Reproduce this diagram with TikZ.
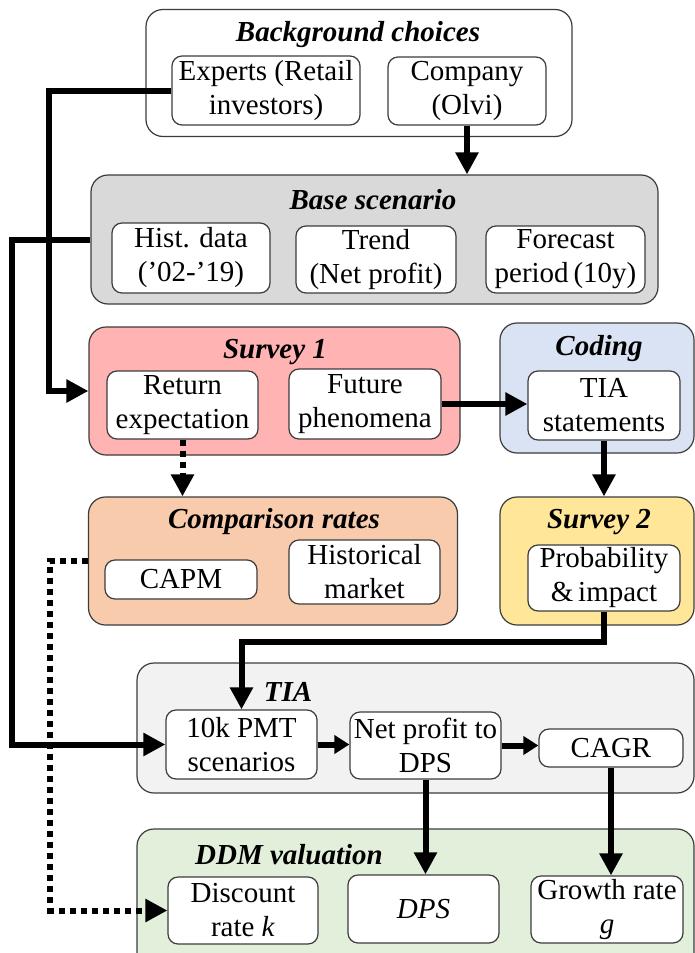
\documentclass[tikz,border=0pt]{standalone}
\usepackage{fontspec}
\setmainfont{Liberation Serif}
\usetikzlibrary{arrows.meta}

\definecolor{edge}{HTML}{3C3C3C}
\definecolor{basefill}{HTML}{D9D9D9}
\definecolor{surveyone}{HTML}{FFB3B3}
\definecolor{codingfill}{HTML}{DAE3F3}
\definecolor{compfill}{HTML}{F8CBAD}
\definecolor{surveytwo}{HTML}{FFE699}
\definecolor{tiafill}{HTML}{F2F2F2}
\definecolor{ddmfill}{HTML}{E2EFDA}

\begin{document}
\begin{tikzpicture}[x=1pt,y=-1pt,
  font=\fontsize{29}{34}\selectfont,
  groupbox/.style={draw=edge, line width=1.2pt, rounded corners=17pt, inner sep=0pt},
  cell/.style={draw=edge, line width=1.2pt, fill=white, rounded corners=10pt,
               inner sep=0pt, align=center},
  heading/.style={font=\fontsize{29}{34}\selectfont\bfseries\itshape, inner sep=0pt},
  flow/.style={line width=6pt, -{Triangle[length=22pt,width=22pt]}},
  shortflow/.style={line width=6pt, -{Triangle[length=15pt,width=18pt]}},
  dotflow/.style={line width=6pt, dash pattern=on 6pt off 5pt,
                  -{Triangle[length=22pt,width=22pt]}}]

\clip (0,0) rectangle (695,953);
\fill[white] (0,0) rectangle (695,953);

% ---------- group boxes ----------
\node[groupbox, fill=white, minimum width=426pt, minimum height=127pt] (bg) at (359,73) {};
\node[groupbox, fill=basefill, minimum width=567pt, minimum height=129pt] (base) at (374.5,239.5) {};
\node[groupbox, fill=surveyone, minimum width=371pt, minimum height=128pt] (s1) at (274.5,391) {};
\node[groupbox, fill=codingfill, minimum width=194pt, minimum height=130pt] (cod) at (597,388) {};
\node[groupbox, fill=compfill, minimum width=369pt, minimum height=128pt] (cmp) at (273,561) {};
\node[groupbox, fill=surveytwo, minimum width=194pt, minimum height=128pt] (s2) at (597,561) {};
\node[groupbox, fill=tiafill, minimum width=557pt, minimum height=130pt] (tia) at (415.5,728) {};
\node[groupbox, fill=ddmfill, minimum width=557pt, minimum height=150pt] (ddm) at (415.5,904) {};

% ---------- headings ----------
\node[heading] (tbg) at (358,35) {Background choices};
\node[heading] (tbase) at (373,200) {Base scenario};
\node[heading] (ts1) at (275,352) {Survey 1};
\node[heading] (tcod) at (599,349) {Coding};
\node[heading] (tcmp) at (274,522) {Comparison rates};
\node[heading] (ts2) at (599,522) {Survey 2};
\node[heading] (ttia) at (288,692) {TIA};
\node[heading] (tddm) at (289,855) {DDM valuation};

% ---------- inner cells ----------
\node[cell, minimum width=188pt, minimum height=69pt] (exp) at (266,90.5) {Experts (Retail\\investors)};
\node[cell, minimum width=158pt, minimum height=68pt] (co) at (467,91) {Company\\(Olvi)};

\node[cell, minimum width=158pt, minimum height=70pt] (hist) at (191,258) {Hist. data\\(’02-’19)};
\node[cell, minimum width=160pt, minimum height=67pt] (trend) at (376,259.5) {Trend\\(Net profit)};
\node[cell, minimum width=159pt, minimum height=67pt] (fc) at (565.5,259.5) {Forecast\\period\,(10y)};

\node[cell, minimum width=151pt, minimum height=68pt] (ret) at (182.5,405) {Return\\expectation};
\node[cell, minimum width=152pt, minimum height=70pt] (fut) at (365,404) {Future\\phenomena};
\node[cell, minimum width=152pt, minimum height=69pt] (tias) at (604,405.5) {TIA\\statements};

\node[cell, minimum width=152pt, minimum height=39pt] (capm) at (181,579.5) {CAPM};
\node[cell, minimum width=151pt, minimum height=64pt] (hmk) at (364.5,572) {Historical\\market};
\node[cell, minimum width=152pt, minimum height=66pt] (prob) at (604,578) {Probability\\\&\,impact};

\node[cell, minimum width=151pt, minimum height=69pt] (pmt) at (241.5,744.5) {10k PMT\\scenarios};
\node[cell, minimum width=151pt, minimum height=67pt] (net) at (425.5,745.5) {Net profit to\\DPS};
\node[cell, minimum width=144pt, minimum height=38pt] (cagr) at (611,748) {CAGR};

\node[cell, minimum width=150pt, minimum height=67pt] (disc) at (243,910.5) {Discount\\rate \textit{k}};
\node[cell, minimum width=151pt, minimum height=68pt] (dps) at (423.5,909) {\textit{DPS}};
\node[cell, minimum width=152pt, minimum height=67pt] (grw) at (607,909.5) {Growth rate\\\textit{g}};

% ---------- elbow points of the long left-hand connectors ----------
\coordinate (railA) at (49,300);
\coordinate (railB) at (12,500);
\coordinate (railC) at (50,750);
\coordinate (railD) at (420,642);

% ---------- connectors ----------
\draw[flow] (exp.west) -| (railA) |- (s1.west);
\draw[flow] (base.west) -| (railB) |- (pmt.west);
\draw[flow] (co.south) -- (co.south |- base.north);
\draw[flow] (fut.east) -- (tias.west |- fut.east);
\draw[flow] (tias.south) -- (tias.south |- s2.north);
\draw[flow] (prob.south) |- (railD) -| (pmt.north);
\draw[shortflow] (pmt.east) -- (net.west |- pmt.east);
\draw[shortflow] (net.east) -- (cagr.west |- net.east);
\draw[flow] (net.south) -- (net.south |- dps.north);
\draw[flow] (cagr.south) -- (cagr.south |- grw.north);
\draw[dotflow] (ret.south) -- (ret.south |- cmp.north);
\draw[dotflow] (cmp.west) -| (railC) |- (disc.west);

\end{tikzpicture}
\end{document}
